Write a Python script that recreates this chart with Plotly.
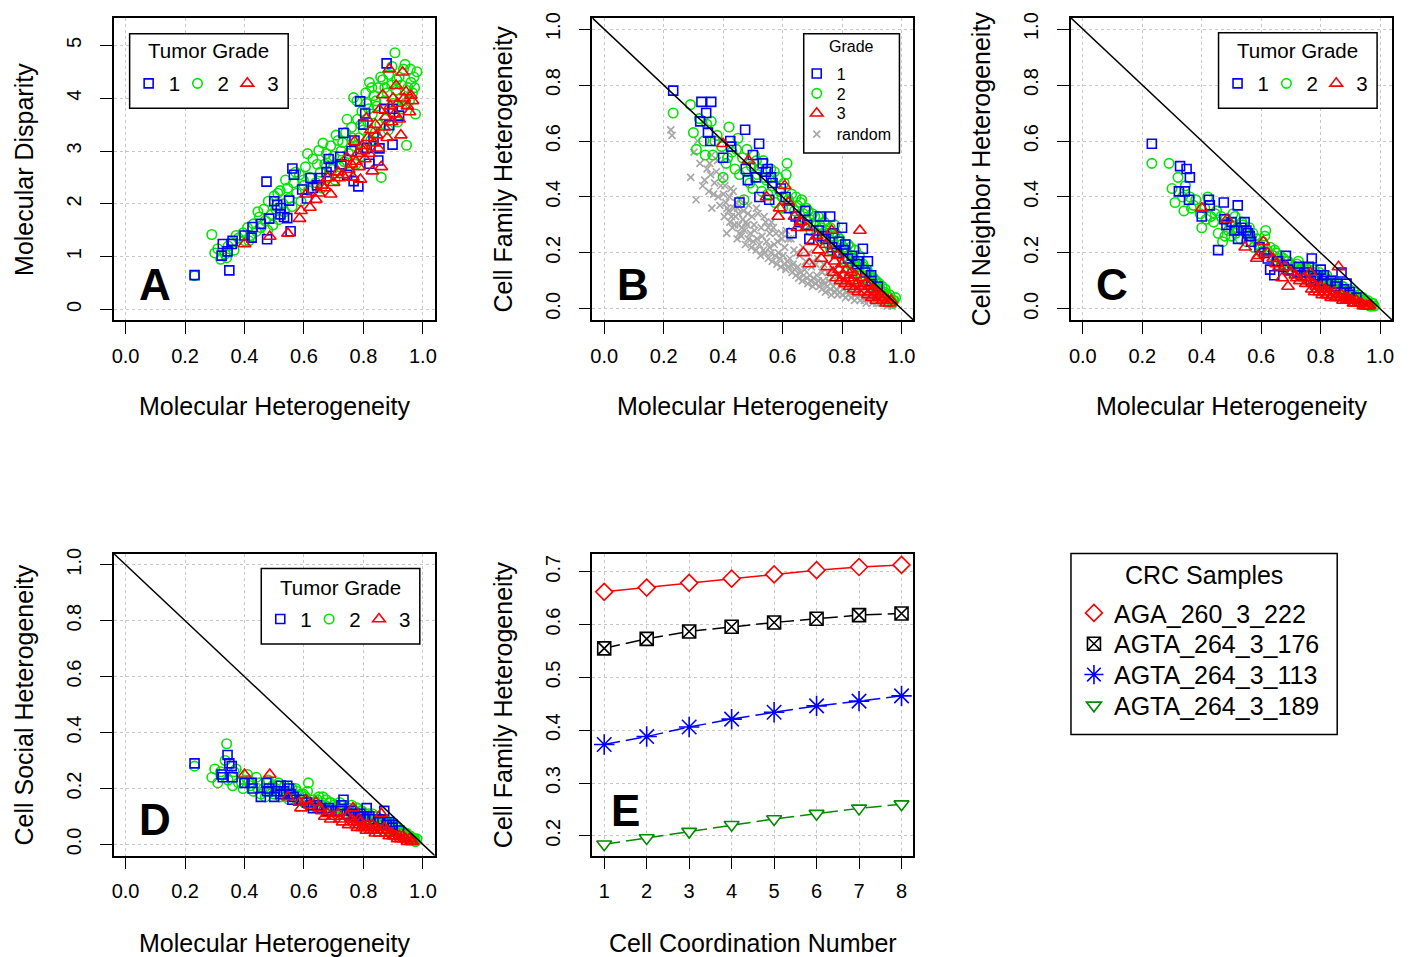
import plotly.graph_objects as go

W, H = 1411, 957

# ---------------- data ----------------
g1_x = [0.232,0.323,0.327,0.343,0.349,0.357,0.360,0.400,0.424,0.427,0.455,0.474,0.476,0.483,0.500,0.510,0.521,0.522,0.533,0.544,
        0.550,0.555,0.561,0.566,0.594,0.610,0.622,0.630,0.644,0.656,0.676,0.683,0.690,0.722,0.726,0.733,0.745,0.760,0.767,0.770,
        0.783,0.789,0.800,0.806,0.811,0.820,0.834,0.850,0.854,0.870,0.878,0.887,0.898,0.898,0.920]
g1_disp = [0.65,1.02,1.24,1.10,0.74,1.24,1.30,1.40,1.36,1.56,1.62,2.42,1.33,1.72,2.05,1.98,1.80,1.92,1.75,1.73,
           2.06,1.48,2.67,2.55,2.27,2.10,2.49,2.30,2.35,2.49,2.60,2.85,2.70,2.89,2.75,3.34,2.55,3.00,2.43,3.20,
           2.33,3.94,3.50,3.71,3.06,2.76,3.26,2.82,3.05,3.80,4.66,3.49,3.12,3.80,3.67]
g1_fam = [0.78,0.67,0.74,0.70,0.63,0.60,0.74,0.54,0.60,0.58,0.38,0.64,0.50,0.46,0.55,0.47,0.59,0.40,0.52,0.49,
          0.50,0.39,0.47,0.45,0.43,0.40,0.36,0.27,0.33,0.31,0.35,0.30,0.25,0.28,0.33,0.26,0.25,0.33,0.22,0.27,
          0.20,0.24,0.29,0.21,0.23,0.18,0.19,0.16,0.17,0.215,0.13,0.17,0.12,0.10,0.08]
g1_nei = [0.59,0.42,0.51,0.42,0.50,0.39,0.47,0.33,0.39,0.37,0.21,0.38,0.32,0.30,0.31,0.28,0.37,0.25,0.29,0.31,
          0.28,0.27,0.26,0.24,0.22,0.20,0.18,0.14,0.12,0.17,0.15,0.19,0.14,0.13,0.15,0.12,0.13,0.15,0.10,0.18,
          0.11,0.12,0.14,0.10,0.12,0.09,0.10,0.08,0.09,0.13,0.07,0.09,0.06,0.05,0.04]
g1_soc = [0.29,0.25,0.24,0.32,0.29,0.28,0.24,0.22,0.22,0.20,0.17,0.22,0.19,0.20,0.17,0.19,0.18,0.21,0.19,0.21,
          0.20,0.18,0.16,0.17,0.16,0.15,0.14,0.13,0.14,0.13,0.12,0.13,0.12,0.12,0.14,0.16,0.11,0.12,0.10,0.11,
          0.10,0.11,0.10,0.09,0.13,0.10,0.09,0.08,0.09,0.12,0.07,0.08,0.07,0.06,0.05]

g2_x = [0.232,0.290,0.300,0.310,0.320,0.340,0.345,0.360,0.365,0.380,0.395,0.400,0.410,0.420,0.430,0.440,0.450,0.455,0.465,0.470,
        0.480,0.490,0.495,0.500,0.505,0.515,0.520,0.530,0.535,0.545,0.550,0.560,0.565,0.575,0.585,0.590,0.600,0.605,0.615,0.620,
        0.630,0.640,0.650,0.655,0.660,0.670,0.675,0.680,0.690,0.695,0.700,0.705,0.715,0.720,0.730,0.735,0.740,0.750,0.755,0.760,
        0.767,0.770,0.775,0.780,0.785,0.790,0.795,0.800,0.805,0.810,0.815,0.820,0.825,0.830,0.835,0.840,0.845,0.850,0.855,0.860,
        0.865,0.870,0.875,0.880,0.885,0.890,0.895,0.900,0.906,0.910,0.915,0.920,0.925,0.930,0.935,0.940,0.945,0.950,0.955,0.960,
        0.965,0.970,0.975,0.980,
        0.335,0.372,0.415,0.445,0.478,0.512,0.538,0.572,0.598,0.612,0.645,0.664,0.686,0.708,0.725,0.745,0.762,0.778,0.792,0.808,
        0.818,0.828,0.842,0.858,0.872,0.884,0.896,0.912,0.928,0.942,0.958,0.972]
g2_disp = [0.64,1.42,1.07,1.15,0.95,0.98,1.20,1.28,1.12,1.35,1.45,1.30,1.55,1.40,1.62,1.48,1.75,1.55,1.90,1.68,
           2.05,1.80,1.60,2.15,1.90,1.70,2.25,2.00,1.85,2.30,2.10,1.95,2.40,2.20,2.55,2.05,2.35,2.70,2.25,2.50,
           2.85,2.40,3.01,2.60,2.30,2.75,2.95,2.50,3.10,2.65,2.90,2.45,3.20,2.70,3.16,2.80,3.35,2.95,2.60,3.45,
           4.01,3.10,2.75,3.60,3.25,2.90,3.75,3.40,3.05,3.90,3.55,4.30,3.20,3.70,4.05,3.35,3.85,4.20,3.50,2.50,
           4.35,3.95,3.60,4.10,4.45,3.75,4.25,3.90,4.86,4.15,3.55,4.40,4.00,3.80,4.55,4.64,3.11,4.20,3.95,4.30,
           4.10,4.40,3.70,4.50,
           1.05,1.40,1.30,1.85,1.50,2.20,2.45,2.60,2.45,2.95,2.75,3.15,2.85,3.30,3.00,3.60,3.25,3.95,3.50,4.10,
           3.80,4.20,3.95,4.40,4.20,3.40,4.60,4.35,4.25,3.90,4.55,4.20]
g2_fam = [0.70,0.73,0.63,0.57,0.68,0.55,0.66,0.67,0.55,0.62,0.58,0.47,0.52,0.65,0.56,0.50,0.61,0.48,0.54,0.39,
          0.57,0.45,0.51,0.43,0.55,0.48,0.50,0.42,0.53,0.46,0.41,0.50,0.44,0.38,0.47,0.42,0.36,0.45,0.52,0.39,
          0.41,0.35,0.37,0.32,0.38,0.34,0.30,0.36,0.32,0.28,0.34,0.30,0.27,0.33,0.29,0.25,0.31,0.27,0.23,0.29,
          0.26,0.24,0.30,0.22,0.26,0.20,0.24,0.18,0.22,0.17,0.20,0.23,0.16,0.19,0.14,0.18,0.21,0.15,0.13,0.17,
          0.12,0.16,0.14,0.11,0.13,0.10,0.12,0.09,0.11,0.08,0.10,0.07,0.09,0.06,0.08,0.05,0.07,0.05,0.04,0.05,
          0.03,0.02,0.03,0.04,
          0.60,0.60,0.54,0.57,0.49,0.53,0.47,0.49,0.40,0.48,0.40,0.39,0.35,0.33,0.30,0.28,0.21,0.27,0.25,0.21,
          0.18,0.22,0.17,0.19,0.15,0.14,0.11,0.10,0.07,0.06,0.04,0.03]
g2_nei = [0.52,0.52,0.43,0.38,0.47,0.35,0.44,0.40,0.36,0.39,0.34,0.29,0.36,0.40,0.33,0.31,0.35,0.27,0.33,0.24,
          0.32,0.28,0.30,0.26,0.34,0.27,0.29,0.25,0.31,0.28,0.24,0.29,0.26,0.22,0.25,0.23,0.20,0.24,0.28,0.21,
          0.22,0.19,0.20,0.17,0.18,0.16,0.18,0.15,0.17,0.14,0.16,0.13,0.15,0.16,0.14,0.13,0.15,0.12,0.13,0.14,
          0.11,0.12,0.13,0.10,0.12,0.11,0.13,0.09,0.10,0.11,0.09,0.12,0.08,0.10,0.07,0.09,0.10,0.08,0.07,0.08,
          0.06,0.07,0.08,0.06,0.05,0.06,0.05,0.05,0.04,0.05,0.04,0.04,0.03,0.04,0.03,0.03,0.02,0.03,0.02,0.02,
          0.01,0.01,0.02,0.01,
          0.40,0.37,0.32,0.34,0.26,0.33,0.30,0.27,0.22,0.26,0.21,0.19,0.17,0.15,0.17,0.14,0.12,0.14,0.10,0.12,
          0.11,0.10,0.09,0.09,0.08,0.07,0.07,0.06,0.05,0.04,0.03,0.02]
g2_soc = [0.28,0.24,0.27,0.22,0.26,0.36,0.23,0.21,0.26,0.22,0.20,0.23,0.25,0.21,0.19,0.24,0.22,0.18,0.20,0.17,
          0.23,0.19,0.21,0.18,0.20,0.22,0.17,0.19,0.21,0.18,0.16,0.20,0.17,0.19,0.16,0.18,0.15,0.17,0.22,0.14,
          0.16,0.15,0.17,0.13,0.15,0.14,0.16,0.12,0.15,0.13,0.14,0.12,0.13,0.15,0.12,0.14,0.11,0.13,0.12,0.14,
          0.11,0.12,0.10,0.13,0.11,0.09,0.12,0.10,0.11,0.08,0.10,0.09,0.09,0.11,0.08,0.09,0.10,0.07,0.09,0.08,
          0.07,0.08,0.06,0.07,0.06,0.07,0.05,0.06,0.05,0.05,0.06,0.04,0.05,0.04,0.04,0.03,0.04,0.03,0.03,0.02,
          0.02,0.02,0.01,0.02,
          0.30,0.27,0.23,0.20,0.19,0.21,0.17,0.20,0.18,0.19,0.16,0.17,0.15,0.13,0.14,0.12,0.11,0.13,0.12,0.10,
          0.11,0.09,0.10,0.08,0.09,0.08,0.07,0.06,0.05,0.04,0.03,0.02]

g3_x = [0.400,0.485,0.546,0.585,0.590,0.607,0.620,0.640,0.650,0.660,0.670,0.680,0.690,0.700,0.715,0.720,0.730,0.745,0.750,0.760,
        0.765,0.770,0.775,0.780,0.785,0.790,0.795,0.800,0.805,0.810,0.815,0.820,0.825,0.830,0.835,0.840,0.845,0.850,0.854,0.860,
        0.865,0.870,0.875,0.880,0.887,0.890,0.895,0.900,0.905,0.910,0.915,0.920,0.926,0.932,0.937,0.943,0.948,0.955,0.960,0.965]
g3_disp = [1.24,1.38,1.44,1.72,1.87,2.18,1.93,2.08,2.20,2.35,2.30,2.49,2.18,2.40,2.60,2.49,2.55,2.87,2.65,2.75,
           2.50,3.18,2.80,2.95,2.70,2.46,3.10,3.00,2.85,3.62,3.25,2.95,3.40,2.62,3.15,3.50,3.30,3.05,3.78,2.70,
           4.06,3.45,3.65,3.25,4.55,3.85,3.55,4.00,3.70,4.24,3.90,3.60,3.30,4.49,4.00,4.12,3.85,3.74,4.05,3.95]
g3_fam = [0.59,0.53,0.40,0.33,0.36,0.44,0.38,0.33,0.29,0.31,0.20,0.29,0.16,0.24,0.26,0.21,0.18,0.23,0.15,0.20,
          0.28,0.13,0.17,0.11,0.19,0.14,0.10,0.16,0.12,0.09,0.14,0.11,0.08,0.13,0.10,0.07,0.12,0.09,0.06,0.28,
          0.08,0.11,0.06,0.09,0.05,0.08,0.06,0.04,0.07,0.05,0.03,0.06,0.04,0.05,0.03,0.04,0.02,0.03,0.02,0.03]
g3_nei = [0.36,0.32,0.22,0.18,0.19,0.24,0.20,0.18,0.16,0.15,0.11,0.15,0.08,0.13,0.12,0.11,0.10,0.11,0.09,0.10,
          0.13,0.07,0.09,0.06,0.08,0.07,0.06,0.08,0.05,0.06,0.07,0.05,0.05,0.06,0.04,0.05,0.06,0.04,0.04,0.15,
          0.04,0.05,0.03,0.04,0.03,0.04,0.03,0.03,0.03,0.02,0.02,0.03,0.02,0.02,0.02,0.01,0.01,0.01,0.01,0.01]
g3_soc = [0.25,0.25,0.17,0.15,0.13,0.16,0.14,0.15,0.13,0.12,0.10,0.11,0.09,0.10,0.11,0.09,0.08,0.10,0.07,0.09,
          0.13,0.08,0.07,0.06,0.09,0.08,0.06,0.07,0.06,0.05,0.07,0.06,0.05,0.07,0.05,0.04,0.06,0.05,0.04,0.11,
          0.05,0.06,0.04,0.05,0.03,0.04,0.04,0.03,0.03,0.03,0.02,0.03,0.02,0.03,0.02,0.02,0.01,0.02,0.01,0.01]

rand_x = [0.224,0.228,0.291,0.302,0.314,0.322,0.331,0.338,0.346,0.352,0.309,0.362,0.358,0.371,0.383,0.392,0.401,0.404,0.412,0.409,
          0.418,0.423,0.431,0.436,0.442,0.447,0.452,0.455,0.461,0.466,0.472,0.475,0.481,0.484,0.492,0.495,0.501,0.506,0.511,0.514,
          0.522,0.526,0.531,0.535,0.541,0.546,0.552,0.556,0.561,0.565,0.572,0.575,0.581,0.586,0.591,0.594,0.602,0.605,0.611,0.616,
          0.621,0.624,0.632,0.635,0.641,0.645,0.651,0.654,0.661,0.666,0.671,0.674,0.682,0.685,0.691,0.695,0.701,0.704,0.711,0.715,
          0.721,0.724,0.732,0.736,0.741,0.744,0.751,0.755,0.761,0.764,0.771,0.776,0.781,0.785,0.791,0.795,0.801,0.804,0.812,0.815,
          0.821,0.826,0.831,0.835,0.842,0.845,0.851,0.856,0.861,0.864,0.871,0.875,0.881,0.885,0.891,0.894,0.902,0.905,0.911,0.916,
          0.921,0.925,0.932,0.941,0.952,0.961,0.968,
          0.448,0.381,0.426,0.552,0.598,0.648,0.702,0.752,0.802,0.852,0.578,0.483,0.362,
          0.512,0.538,0.563,0.612,0.628,0.668,0.688,0.718,0.738,0.768,0.788,0.818,0.838,0.868,0.888,0.908,
          0.355,0.368,0.377,0.389,0.397,0.406,0.414,0.421,0.428,0.434,0.439,0.444,0.451,0.458,0.463,0.469,0.477,0.486,0.497,0.504,
          0.517,0.528,0.543,0.557,0.569,0.583,0.596,0.607,0.619,0.638,0.657,0.678,0.697,0.712,0.733,0.758,0.782,0.806,0.828,0.857,
          0.879,0.898]
rand_fam = [0.64,0.62,0.47,0.56,0.60,0.52,0.44,0.46,0.50,0.42,0.39,0.36,0.48,0.45,0.40,0.44,0.41,0.33,0.27,0.38,
            0.35,0.31,0.29,0.36,0.33,0.25,0.30,0.27,0.26,0.32,0.28,0.23,0.30,0.25,0.27,0.22,0.24,0.28,0.21,0.25,
            0.23,0.19,0.26,0.21,0.20,0.24,0.18,0.22,0.20,0.17,0.23,0.19,0.16,0.20,0.18,0.15,0.19,0.16,0.14,0.17,
            0.15,0.18,0.13,0.16,0.14,0.12,0.15,0.11,0.13,0.10,0.12,0.14,0.11,0.09,0.12,0.10,0.08,0.11,0.09,0.12,
            0.10,0.08,0.07,0.10,0.09,0.06,0.08,0.10,0.07,0.05,0.08,0.06,0.07,0.05,0.06,0.08,0.05,0.07,0.04,0.06,
            0.05,0.07,0.04,0.06,0.03,0.05,0.04,0.06,0.03,0.05,0.04,0.03,0.02,0.04,0.03,0.05,0.02,0.04,0.03,0.02,
            0.03,0.02,0.02,0.02,0.01,0.02,0.01,
            0.36,0.53,0.43,0.29,0.25,0.20,0.17,0.13,0.10,0.08,0.27,0.34,0.55,
            0.36,0.33,0.31,0.28,0.25,0.22,0.20,0.18,0.16,0.14,0.12,0.11,0.09,0.07,0.06,0.05,
            0.52,0.41,0.49,0.37,0.47,0.44,0.36,0.40,0.33,0.42,0.30,0.38,0.34,0.39,0.29,0.35,0.31,0.37,0.33,0.30,
            0.34,0.29,0.31,0.27,0.29,0.24,0.27,0.22,0.25,0.21,0.19,0.17,0.15,0.16,0.13,0.12,0.10,0.09,0.08,0.06,
            0.05,0.04]

coord_num = [1, 2, 3, 4, 5, 6, 7, 8]
crc_samples = ["AGA_260_3_222", "AGTA_264_3_176", "AGTA_264_3_113", "AGTA_264_3_189"]
crc_family = [
    [0.662, 0.670, 0.679, 0.687, 0.695, 0.703, 0.709, 0.713],
    [0.555, 0.573, 0.587, 0.596, 0.604, 0.611, 0.618, 0.621],
    [0.373, 0.388, 0.406, 0.421, 0.434, 0.446, 0.455, 0.465],
    [0.184, 0.196, 0.208, 0.221, 0.232, 0.242, 0.252, 0.260],
]

diag_intercept, diag_slope = 1.0, -1.0

for a in (g1_disp, g1_fam, g1_nei, g1_soc):
    assert len(a) == len(g1_x)
for a in (g2_disp, g2_fam, g2_nei, g2_soc):
    assert len(a) == len(g2_x)
for a in (g3_disp, g3_fam, g3_nei, g3_soc):
    assert len(a) == len(g3_x)
assert len(rand_x) == len(rand_fam)

# ---------------- helpers ----------------
FONT = "Liberation Sans, Arial, Helvetica, sans-serif"
BLUE, GREEN, RED, GRAY = "#0000FF", "#00E600", "#FF0000", "#A8A8A8"


def px_x(p):
    return p / W


def px_y(p):
    return 1 - p / H


legend_cfg = {}
_leg_count = [0]


def new_legend(sym_x, cy, size):
    """One legend entry placed at pixel position (symbol centre x, centre y)."""
    _leg_count[0] += 1
    key = "legend" if _leg_count[0] == 1 else "legend%d" % _leg_count[0]
    legend_cfg[key] = dict(x=px_x(sym_x - 20), y=px_y(cy), xanchor="left", yanchor="middle",
                           orientation="v", bgcolor="rgba(0,0,0,0)", borderwidth=0,
                           font=dict(family=FONT, size=size, color="black"), itemwidth=30,
                           itemclick=False, itemdoubleclick=False)
    return key


shapes = []
ann = []


def legend_box(x0, y0, x1, y1):
    shapes.append(dict(type="rect", xref="paper", yref="paper", x0=px_x(x0), x1=px_x(x1),
                       y0=px_y(y1), y1=px_y(y0), fillcolor="white",
                       line=dict(color="black", width=1.5), layer="above"))


def text_at(text, cx, cy, size, angle=0):
    ann.append(dict(text=text, x=px_x(cx), y=px_y(cy), xref="paper", yref="paper",
                    showarrow=False, xanchor="center", yanchor="middle", textangle=angle,
                    font=dict(family=FONT, size=size, color="black")))


# ---------------- legends (layout positions, pixels) ----------------
hboxes = {
    0: dict(box=(128, 28, 287, 103), title=(207.5, 45), syms=(147, 196, 246), row=78),
    2: dict(box=(1220, 27, 1379, 103), title=(1299.5, 45), syms=(1239, 1288, 1338), row=78),
    3: dict(box=(260, 566, 419, 642), title=(339.5, 585), syms=(279, 328, 378), row=617),
}
vbox_b = dict(box=(804, 28, 900, 148), title=(852, 41), sym_x=817, rows=(68, 88, 108, 129))
vbox_f = dict(box=(1072, 551, 1339, 733), title=(1205.5, 573), sym_x=1095, rows=(611, 642, 673, 704))

for p, hb in hboxes.items():
    legend_box(*hb["box"])
    text_at("Tumor Grade", hb["title"][0], hb["title"][1], 20.5)
legend_box(*vbox_b["box"])
text_at("Grade", vbox_b["title"][0], vbox_b["title"][1], 16)
legend_box(*vbox_f["box"])
text_at("CRC Samples", vbox_f["title"][0], vbox_f["title"][1], 25)

# ---------------- traces ----------------
grades = [
    ("1", g1_x, [g1_disp, g1_fam, g1_nei, g1_soc], BLUE, "square-open", 9),
    ("2", g2_x, [g2_disp, g2_fam, g2_nei, g2_soc], GREEN, "circle-open", 9.5),
    ("3", g3_x, [g3_disp, g3_fam, g3_nei, g3_soc], RED, "triangle-up-open", 11),
]
draw_order = [1, 0, 2]

fig = go.Figure()
axes = [("x", "y"), ("x2", "y2"), ("x3", "y3"), ("x4", "y4")]

for p, (xa, ya) in enumerate(axes):
    if p == 1:
        lg = new_legend(vbox_b["sym_x"], vbox_b["rows"][3], 16)
        fig.add_trace(go.Scatter(
            x=rand_x, y=rand_fam, mode="markers", xaxis=xa, yaxis=ya, name="random", legend=lg,
            marker=dict(symbol="x-thin-open", size=7, color=GRAY, line=dict(width=1.7, color=GRAY))))
    for gi in draw_order:
        name, gx, ys, col, sym, sz = grades[gi]
        if p == 1:
            lg = new_legend(vbox_b["sym_x"], vbox_b["rows"][gi], 16)
        else:
            hb = hboxes[p]
            lg = new_legend(hb["syms"][gi], hb["row"], 20.5)
        fig.add_trace(go.Scatter(
            x=gx, y=ys[p], mode="markers", xaxis=xa, yaxis=ya, name=name, legend=lg,
            marker=dict(symbol=sym, size=sz, color=col, line=dict(width=1.6, color=col))))

e_styles = [
    ("diamond", "#FF0000", 13, "solid"),
    ("square-x", "#000000", 13, "16px,6px"),
    ("asterisk-open", "#0000FF", 17, "16px,6px"),
    ("triangle-down", "#008B00", 13, "16px,6px"),
]
for name, vals, (sym, col, sz, dash) in zip(crc_samples, crc_family, e_styles):
    fig.add_trace(go.Scatter(
        x=coord_num, y=vals, mode="lines+markers", xaxis="x5", yaxis="y5", showlegend=False,
        line=dict(color=col, width=1.5, dash=dash),
        marker=dict(symbol=sym, size=sz, color="white" if "open" not in sym else col,
                    line=dict(color=col, width=1.6))))
for i, (name, (sym, col, sz, dash)) in enumerate(zip(crc_samples, e_styles)):
    lg = new_legend(vbox_f["sym_x"], vbox_f["rows"][i], 25)
    fig.add_trace(go.Scatter(
        x=[None], y=[None], mode="markers", xaxis="x5", yaxis="y5", name=name, legend=lg,
        marker=dict(symbol=sym, size=sz, color="white" if "open" not in sym else col,
                    line=dict(color=col, width=1.6))))

# ---------------- axes ----------------
TOP = [px_y(316), px_y(12)]
BOT = [px_y(855), px_y(551)]
COLS = [[px_x(112), px_x(434)], [px_x(592), px_x(914)], [px_x(1072), px_x(1394)]]


def axis(domain, rng, tickvals, fmt, anchor, is_y):
    d = dict(domain=domain, range=rng, tickmode="array", tickvals=tickvals,
             ticktext=[fmt.format(v) for v in tickvals],
             ticks="outside", ticklen=12, tickwidth=1.3, tickcolor="black",
             showline=True, linecolor="black", linewidth=1.5, mirror=True,
             showgrid=True, gridcolor="#C8C8C8", gridwidth=1, griddash="3px,3px",
             zeroline=False, anchor=anchor, ticklabelstandoff=11 if is_y else 5,
             tickfont=dict(family=FONT, size=20, color="black"), fixedrange=True)
    if is_y:
        d["tickangle"] = -90
    return d


unit = [0.0, 0.2, 0.4, 0.6, 0.8, 1.0]
R01 = [-0.04, 1.04]
fig.update_layout(
    xaxis=axis(COLS[0], R01, unit, "{:.1f}", "y", False),
    yaxis=axis(TOP, [-0.2, 5.52], [0, 1, 2, 3, 4, 5], "{:d}", "x", True),
    xaxis2=axis(COLS[1], R01, unit, "{:.1f}", "y2", False),
    yaxis2=axis(TOP, R01, unit, "{:.1f}", "x2", True),
    xaxis3=axis(COLS[2], R01, unit, "{:.1f}", "y3", False),
    yaxis3=axis(TOP, R01, unit, "{:.1f}", "x3", True),
    xaxis4=axis(COLS[0], R01, unit, "{:.1f}", "y4", False),
    yaxis4=axis(BOT, R01, unit, "{:.1f}", "x4", True),
    xaxis5=axis(COLS[1], [0.72, 8.28], coord_num, "{:d}", "y5", False),
    yaxis5=axis(BOT, [0.1625, 0.7345], [0.2, 0.3, 0.4, 0.5, 0.6, 0.7], "{:.1f}", "x5", True),
)

# diagonal reference lines y = a + b x
diag_shapes = []
for xr, yr in (("x2", "y2"), ("x3", "y3"), ("x4", "y4")):
    lo, hi = R01
    diag_shapes.append(dict(type="line", xref=xr, yref=yr, x0=lo, x1=hi,
                            y0=diag_intercept + diag_slope * lo, y1=diag_intercept + diag_slope * hi,
                            line=dict(color="black", width=1.5), layer="above"))

# axis titles
for cx in (273, 753, 1233):
    text_at("Molecular Heterogeneity", cx, 403, 25)
text_at("Molecular Heterogeneity", 273, 943, 25)
text_at("Cell Coordination Number", 753, 943, 25)
text_at("Molecular Disparity", 22, 164, 25, -90)
text_at("Cell Family Heterogeneity", 502, 164, 25, -90)
text_at("Cell Neighbor Heterogeneity", 982, 164, 25, -90)
text_at("Cell Social Heterogeneity", 22, 703, 25, -90)
text_at("Cell Family Heterogeneity", 502, 703, 25, -90)

for letter, cx, cy in (("A", 153, 280), ("B", 633, 280), ("C", 1113, 280), ("D", 153, 819), ("E", 625, 810)):
    text_at("<b>%s</b>" % letter, cx, cy, 44)

fig.update_layout(**legend_cfg)
fig.update_layout(annotations=ann, shapes=diag_shapes + shapes, width=W, height=H, autosize=False,
                  margin=dict(l=0, r=0, t=0, b=0), showlegend=True,
                  paper_bgcolor="white", plot_bgcolor="white",
                  font=dict(family=FONT, color="black"))

fig.write_html("out.html", config={"displayModeBar": False},
               post_script="document.body.style.margin='0px';document.body.style.overflow='hidden';")
